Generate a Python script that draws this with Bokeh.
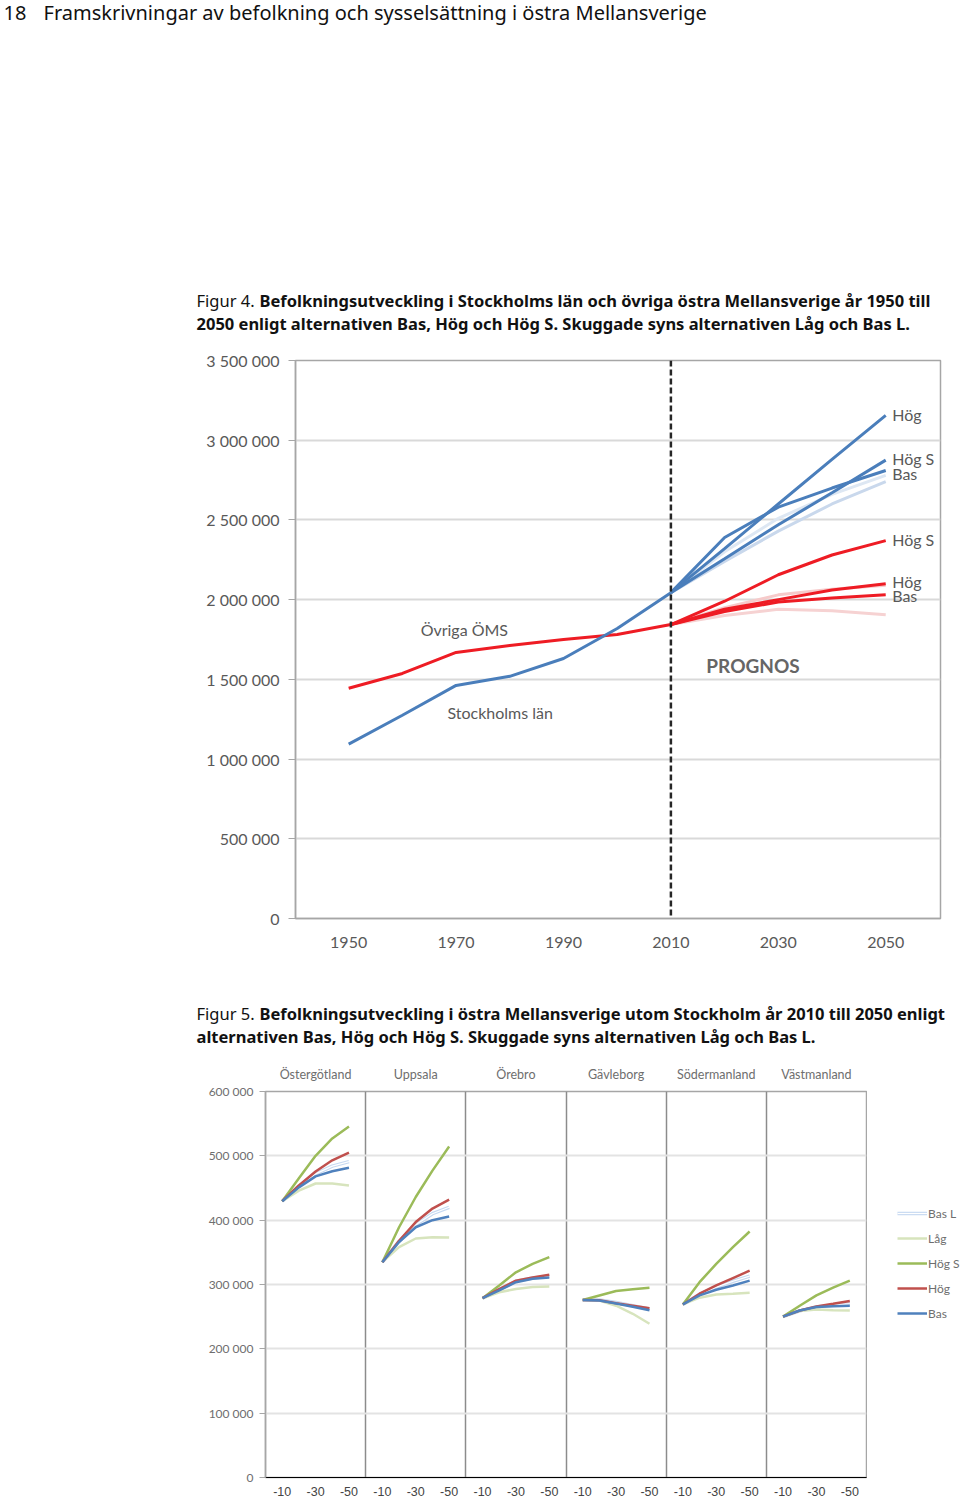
from bokeh.plotting import figure
from bokeh.models import Range1d, FixedTicker, Span, Legend, LegendItem, LinearAxis
from bokeh.layouts import column, row
from bokeh.core.properties import value
from bokeh.embed import file_html
from bokeh.resources import INLINE

# ---------------- Figure 4 data ----------------
hist_years = [1950, 1960, 1970, 1980, 1990, 2000, 2010]
sthlm_hist = [1094000, 1275000, 1462000, 1519000, 1631000, 1819000, 2044000]
oms_hist = [1444000, 1537000, 1669000, 1712000, 1750000, 1781000, 1844000]

proj_years = [2010, 2020, 2030, 2040, 2050]
sthlm_hog = [2044000, 2320000, 2600000, 2880000, 3156000]
sthlm_hogs = [2044000, 2256000, 2470000, 2670000, 2875000]
sthlm_bas = [2044000, 2390000, 2580000, 2700000, 2810000]
sthlm_lag = [2044000, 2240000, 2430000, 2600000, 2740000]
sthlm_basl = [2044000, 2300000, 2510000, 2660000, 2780000]
oms_hogs = [1844000, 1990000, 2156000, 2280000, 2370000]
oms_hog = [1844000, 1940000, 2000000, 2060000, 2100000]
oms_bas = [1844000, 1925000, 1985000, 2010000, 2030000]
oms_lag = [1844000, 1900000, 1940000, 1930000, 1906000]
oms_basl = [1844000, 1950000, 2030000, 2065000, 2090000]

fig4_x_ticks = [1950, 1970, 1990, 2010, 2030, 2050]
fig4_y_ticks = [0, 500000, 1000000, 1500000, 2000000, 2500000, 3000000, 3500000]
fig4_y_labels = ["0", "500 000", "1 000 000", "1 500 000", "2 000 000",
                 "2 500 000", "3 000 000", "3 500 000"]

end_labels = ["Hög", "Hög S", "Bas", "Hög S", "Hög", "Bas"]
end_label_values = [3160000, 2885000, 2790000, 2375000, 2112000, 2025000]

# ---------------- Figure 5 data ----------------
regions = ["Östergötland", "Uppsala", "Örebro", "Gävleborg", "Södermanland", "Västmanland"]
years5 = [2010, 2020, 2030, 2040, 2050]
bas = [[429500, 451000, 468000, 476000, 481500],
       [334700, 366000, 389000, 400000, 405700],
       [278700, 290700, 303600, 308800, 311000],
       [276000, 275000, 270500, 265400, 260000],
       [269000, 283000, 291800, 298500, 306000],
       [250000, 259600, 265000, 266000, 267000]]
hog = [[429500, 454000, 475600, 493000, 505000],
       [334700, 368000, 397000, 418000, 432000],
       [278700, 293000, 306000, 311000, 315000],
       [276000, 275500, 271000, 267000, 263000],
       [269000, 285700, 298500, 310000, 321500],
       [250000, 259600, 265800, 270000, 274500]]
hogs = [[429500, 465000, 500000, 527000, 545600],
        [334700, 389000, 436000, 477000, 514500],
        [278700, 298500, 319000, 332000, 342500],
        [276000, 283000, 290000, 292500, 294800],
        [269000, 303600, 332000, 358000, 382400],
        [250000, 267000, 283000, 295000, 306000]]
lag = [[429500, 446000, 457000, 457000, 454000],
       [334700, 358000, 371500, 373500, 373000],
       [278700, 288000, 293000, 296000, 297000],
       [276000, 275000, 267000, 254500, 239000],
       [269000, 279500, 284500, 285500, 287000],
       [250000, 258800, 261000, 260000, 259600]]
basl = [[429500, 453000, 472000, 484000, 491000],
        [334700, 367000, 393000, 410000, 420000],
        [278700, 292000, 305000, 310000, 313000],
        [276000, 276000, 272000, 267000, 262000],
        [269000, 285000, 296000, 305000, 313000],
        [250000, 259000, 265000, 268000, 270000]]

series_names = ["Bas L", "Låg", "Hög S", "Hög", "Bas"]

fig5_y_ticks = [0, 100000, 200000, 300000, 400000, 500000, 600000]
fig5_y_labels = ["0", "100 000", "200 000", "300 000", "400 000", "500 000", "600 000"]
fig5_x_labels = ["-10", "-30", "-50"]

AX = "#595959"
BODY_FONT = "Noto Sans"
CHART_FONT = "Lato"
W = 960


def text_fig(w, h):
    f = figure(width=w, height=h, x_range=Range1d(0, w), y_range=Range1d(h, 0),
               x_axis_type=None, y_axis_type=None, output_backend="svg",
               toolbar_location=None, min_border=0, min_border_left=0, min_border_right=0,
               min_border_top=0, min_border_bottom=0, outline_line_color=None)
    return f


# ---------------- header + caption 4 ----------------
head = text_fig(W, 345)
head.text(x=[3, 43], y=[12, 12], text=["18", "Framskrivningar av befolkning och sysselsättning i östra Mellansverige"],
          text_font=value(BODY_FONT), text_font_size="20px", text_color="#111111",
          text_baseline="middle", text_align="left")
head.text(x=[196], y=[300], text=["Figur 4."], text_font=value(BODY_FONT),
          text_font_size="16.5px", text_color="#111111", text_baseline="middle")
head.text(x=[259, 196], y=[300, 323],
          text=["Befolkningsutveckling i Stockholms län och övriga östra Mellansverige år 1950 till",
                "2050 enligt alternativen Bas, Hög och Hög S. Skuggade syns alternativen Låg och Bas L."],
          text_font=value(BODY_FONT), text_font_style="bold", text_font_size="16.5px",
          text_color="#111111", text_baseline="middle")

# ---------------- Figure 4 chart ----------------
p1 = figure(width=W, height=615, x_range=Range1d(1940.1, 2060.2), y_range=Range1d(0, 3500000),
            output_backend="svg", toolbar_location=None,
            min_border_left=295, min_border_right=20, min_border_top=15, min_border_bottom=42,
            outline_line_color="#A6A6A6", outline_line_width=1.5)
p1.xgrid.visible = False
p1.ygrid.grid_line_color = "#D9D9D9"
p1.ygrid.grid_line_width = 2
p1.yaxis.ticker = FixedTicker(ticks=fig4_y_ticks)
p1.yaxis.major_label_overrides = {t: l for t, l in zip(fig4_y_ticks, fig4_y_labels)}
p1.xaxis.ticker = FixedTicker(ticks=fig4_x_ticks)
for ax in (p1.xaxis[0], p1.yaxis[0]):
    ax.axis_line_color = "#A6A6A6"
    ax.axis_line_width = 1.5
    ax.major_label_text_font = CHART_FONT
    ax.major_label_text_font_size = "16px"
    ax.major_label_text_color = AX
    ax.minor_tick_line_color = None
p1.yaxis.major_tick_out = 7
p1.yaxis.major_tick_in = 0
p1.yaxis.major_tick_line_color = "#A6A6A6"
p1.yaxis.major_label_standoff = 9
p1.xaxis.major_tick_out = 0
p1.xaxis.major_tick_in = 0
p1.xaxis.major_label_standoff = 18

BLUE1 = "#4A7EBB"
RED1 = "#EE1C24"
p1.line(proj_years, sthlm_lag, line_color="#C9D8EC", line_width=3)
p1.line(proj_years, sthlm_basl, line_color="#DDE7F3", line_width=3)
p1.line(proj_years, oms_lag, line_color="#F6D2D2", line_width=3)
p1.line(proj_years, oms_basl, line_color="#F6CACA", line_width=3)
p1.line(hist_years, oms_hist, line_color=RED1, line_width=3)
p1.line(hist_years, sthlm_hist, line_color=BLUE1, line_width=3)
for s in (oms_bas, oms_hog, oms_hogs):
    p1.line(proj_years, s, line_color=RED1, line_width=3)
for s in (sthlm_bas, sthlm_hogs, sthlm_hog):
    p1.line(proj_years, s, line_color=BLUE1, line_width=3)

p1.add_layout(Span(location=2010, dimension="height", line_color="#262626",
                   line_dash="6 3", line_width=2.5))

p1.text(x=[2051.2] * len(end_labels), y=end_label_values, text=end_labels,
        text_font=value(CHART_FONT), text_font_size="16px", text_color=AX,
        text_baseline="middle", text_align="left")
p1.text(x=[1963.4, 1968.4], y=[1812500, 1294000], text=["Övriga ÖMS", "Stockholms län"],
        text_font=value(CHART_FONT), text_font_size="16px", text_color=AX,
        text_baseline="middle", text_align="left")
p1.text(x=[2016.6], y=[1587500], text=["PROGNOS"],
        text_font=value(CHART_FONT), text_font_size="19px", text_font_style="bold",
        text_color="#666666", text_baseline="middle", text_align="left")

# ---------------- caption 5 ----------------
cap5 = text_fig(W, 90)
cap5.text(x=[196], y=[53], text=["Figur 5."], text_font=value(BODY_FONT),
          text_font_size="16.5px", text_color="#111111", text_baseline="middle")
cap5.text(x=[259, 196], y=[53, 76],
          text=["Befolkningsutveckling i östra Mellansverige utom Stockholm år 2010 till 2050 enligt",
                "alternativen Bas, Hög och Hög S. Skuggade syns alternativen Låg och Bas L."],
          text_font=value(BODY_FONT), text_font_style="bold", text_font_size="16.5px",
          text_color="#111111", text_baseline="middle")

# ---------------- Figure 5 chart ----------------
PW = 60  # panel width in x units (2000..2060 per region)
P2W = 867
p2 = figure(width=P2W, height=451, x_range=Range1d(0, PW * len(regions)), y_range=Range1d(0, 600000),
            output_backend="svg", toolbar_location=None,
            min_border_left=265, min_border_right=1, min_border_top=41, min_border_bottom=24,
            outline_line_color="#A6A6A6", outline_line_width=1.5)
centers = [i * PW + 30 for i in range(len(regions))]
p2.ygrid.grid_line_color = "#E3E3E3"
p2.ygrid.grid_line_width = 2
p2.yaxis.ticker = FixedTicker(ticks=fig5_y_ticks)
p2.yaxis.major_label_overrides = {t: l for t, l in zip(fig5_y_ticks, fig5_y_labels)}
xt = []
xl = {}
for i in range(len(regions)):
    for k, lab in enumerate(fig5_x_labels):
        t = i * PW + 10 + 20 * k
        xt.append(t)
        xl[t] = lab
p2.xaxis.ticker = FixedTicker(ticks=xt)
p2.xaxis.major_label_overrides = xl
p2.xgrid.ticker = FixedTicker(ticks=[i * PW for i in range(1, len(regions))])
p2.xgrid.grid_line_color = "#8C8C8C"
p2.xgrid.grid_line_width = 1.5
top_axis = LinearAxis(ticker=FixedTicker(ticks=centers),
                      major_label_overrides={c: r for c, r in zip(centers, regions)})
p2.add_layout(top_axis, "above")
for ax in (p2.xaxis[0], p2.yaxis[0], top_axis):
    ax.major_label_text_font = CHART_FONT
    ax.major_label_text_font_size = "12px"
    ax.major_label_text_color = "#6E6E6E"
    ax.minor_tick_line_color = None
    ax.axis_line_color = "#A6A6A6"
    ax.axis_line_width = 1.5
top_axis.major_label_text_font_size = "13px"
p2.xaxis.major_label_text_font_size = "12.5px"
p2.yaxis.major_tick_out = 6
p2.yaxis.major_tick_in = 0
p2.yaxis.major_tick_line_color = "#A6A6A6"
p2.yaxis.major_label_standoff = 6
p2.xaxis.major_tick_out = 0
p2.xaxis.major_tick_in = 0
p2.xaxis.major_label_standoff = 9
top_axis.axis_line_color = None
top_axis.major_tick_line_color = None
top_axis.major_label_standoff = 10

COL_BASL = "#C6D9F1"
COL_LAG = "#D7E4BD"
COL_HOGS = "#9BBB59"
COL_HOG = "#C0504D"
COL_BAS = "#4F81BD"


def xs_for(i):
    return [i * PW + (y - 2000) for y in years5]


for i in range(len(regions)):
    xs = xs_for(i)
    p2.line(xs, basl[i], line_color=COL_BASL, line_width=3.5)
    p2.line(xs, basl[i], line_color="#FFFFFF", line_width=1.2)
for i in range(len(regions)):
    p2.line(xs_for(i), lag[i], line_color=COL_LAG, line_width=2.5)
for i in range(len(regions)):
    xs = xs_for(i)
    p2.line(xs, hogs[i], line_color=COL_HOGS, line_width=2.5)
    p2.line(xs, hog[i], line_color=COL_HOG, line_width=2.5)
    p2.line(xs, bas[i], line_color=COL_BAS, line_width=2.5)

# ---------------- legend panel (to the right of figure 5) ----------------
# The legend's own renderers carry the first region's series; they lie outside
# this small panel's 0..1 ranges, so only their legend swatches are visible.
LW = W - P2W
legfig = figure(width=LW, height=451, x_range=Range1d(0, 1), y_range=Range1d(0, 1),
                x_axis_type=None, y_axis_type=None, output_backend="svg",
                toolbar_location=None, min_border=0, min_border_left=0, min_border_right=0,
                min_border_top=0, min_border_bottom=0, outline_line_color=None)
lg_basl_a = legfig.line(years5, basl[0], line_color=COL_BASL, line_width=3.5)
lg_basl_b = legfig.line(years5, basl[0], line_color="#FFFFFF", line_width=1.2)
lg_lag = legfig.line(years5, lag[0], line_color=COL_LAG, line_width=2.5)
lg_hogs = legfig.line(years5, hogs[0], line_color=COL_HOGS, line_width=2.5)
lg_hog = legfig.line(years5, hog[0], line_color=COL_HOG, line_width=2.5)
lg_bas = legfig.line(years5, bas[0], line_color=COL_BAS, line_width=2.5)
legend = Legend(items=[
    LegendItem(label=series_names[0], renderers=[lg_basl_a, lg_basl_b]),
    LegendItem(label=series_names[1], renderers=[lg_lag]),
    LegendItem(label=series_names[2], renderers=[lg_hogs]),
    LegendItem(label=series_names[3], renderers=[lg_hog]),
    LegendItem(label=series_names[4], renderers=[lg_bas]),
], location=(30, 178), orientation="vertical", glyph_width=30, glyph_height=20,
    label_height=20, spacing=5, padding=0, margin=0, label_standoff=1,
    label_text_font=CHART_FONT, label_text_font_size="12px", label_text_color="#6E6E6E",
    border_line_color=None, background_fill_alpha=0)
legfig.add_layout(legend)

page = column(row(head), row(p1), row(cap5), row(column(p2), column(legfig)))
open("out.html", "w").write(file_html(page, INLINE))
